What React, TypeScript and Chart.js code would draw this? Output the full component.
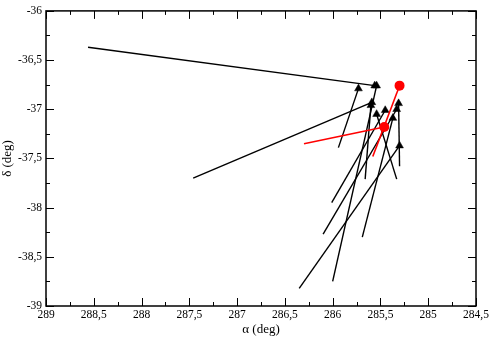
import { useEffect, useRef } from 'react';
import { Chart, registerables } from 'chart.js';

Chart.register(...registerables);

// Black arrows: tail (start) and head (end) positions, in degrees
const blackTailRA = [288.56, 285.94, 285.30, 286.35, 286.10, 285.69, 287.46, 285.66, 285.33, 286.01, 286.00];
const blackTailDec = [-36.37, -37.39, -37.58, -38.82, -38.27, -38.30, -37.70, -37.71, -37.71, -37.95, -38.75];
const blackHeadRA = [285.56, 285.73, 285.31, 285.30, 285.33, 285.37, 285.59, 285.60, 285.54, 285.45, 285.54];
const blackHeadDec = [-36.76, -36.79, -36.94, -37.37, -37.00, -37.09, -36.93, -36.96, -37.05, -37.01, -36.76];

// Red arrows
const redTailRA = [286.30, 285.58];
const redTailDec = [-37.35, -37.48];
const redHeadRA = [285.46, 285.30];
const redHeadDec = [-37.18, -36.76];

// Axis ticks
const xMajorTicks = [289, 288.5, 288, 287.5, 287, 286.5, 286, 285.5, 285, 284.5];
const yMajorTicks = [-39, -38.5, -38, -37.5, -37, -36.5, -36];

const fmt = (v: number) => String(v).replace('.', ',');

const mids = (arr: number[]) => {
  const out: number[] = [];
  for (let i = 0; i < arr.length - 1; i++) out.push((arr[i] + arr[i + 1]) / 2);
  return out;
};

const framePlugin = {
  id: 'frameTicks',
  beforeDatasetsDraw(chart: any) {
    const { ctx, chartArea: a, scales } = chart;
    const xs = scales.x;
    const ys = scales.y;
    ctx.save();
    ctx.strokeStyle = '#000';
    ctx.lineWidth = 1;
    ctx.beginPath();
    const major = 8;
    const minor = 4;
    const drawX = (vals: number[], len: number) => {
      vals.forEach((v) => {
        const px = Math.round(xs.getPixelForValue(v)) + 0.5;
        ctx.moveTo(px, a.bottom);
        ctx.lineTo(px, a.bottom - len);
        ctx.moveTo(px, a.top);
        ctx.lineTo(px, a.top + len);
      });
    };
    const drawY = (vals: number[], len: number) => {
      vals.forEach((v) => {
        const py = Math.round(ys.getPixelForValue(v)) + 0.5;
        ctx.moveTo(a.left, py);
        ctx.lineTo(a.left + len, py);
        ctx.moveTo(a.right, py);
        ctx.lineTo(a.right - len, py);
      });
    };
    drawX(xMajorTicks, major);
    drawX(mids(xMajorTicks), minor);
    drawY(yMajorTicks, major);
    drawY(mids(yMajorTicks), minor);
    ctx.stroke();
    ctx.lineWidth = 1.5;
    ctx.strokeRect(a.left, a.top, a.right - a.left, a.bottom - a.top);
    ctx.restore();
  },
};

export default function App() {
  const ref = useRef<HTMLCanvasElement | null>(null);

  useEffect(() => {
    if (!ref.current) return;
    const datasets: any[] = [];
    redTailRA.forEach((_, i) => {
      datasets.push({
        data: [
          { x: redTailRA[i], y: redTailDec[i] },
          { x: redHeadRA[i], y: redHeadDec[i] },
        ],
        showLine: true,
        borderColor: '#ff0000',
        backgroundColor: '#ff0000',
        borderWidth: 1.6,
        pointRadius: [0, 5],
        pointStyle: 'circle',
        pointBorderWidth: 0,
        order: 0,
      });
    });
    blackTailRA.forEach((_, i) => {
      datasets.push({
        data: [
          { x: blackTailRA[i], y: blackTailDec[i] },
          { x: blackHeadRA[i], y: blackHeadDec[i] },
        ],
        showLine: true,
        borderColor: '#000000',
        backgroundColor: '#000000',
        borderWidth: 1.4,
        pointRadius: [0, 4.5],
        pointStyle: 'triangle',
        pointBorderWidth: 0.5,
        order: 1,
      });
    });

    const tickFont = { family: 'Liberation Serif', size: 11.5 };
    const titleFont = { family: 'Liberation Serif', size: 13 };

    const chart = new Chart(ref.current, {
      type: 'scatter',
      data: { datasets },
      options: {
        animation: false,
        responsive: true,
        maintainAspectRatio: false,
        layout: { padding: { top: 5, right: 15, left: 0, bottom: 0 } },
        plugins: { legend: { display: false }, tooltip: { enabled: false } },
        scales: {
          x: {
            type: 'linear',
            reverse: true,
            min: 284.5,
            max: 289,
            grid: { display: false, drawTicks: false },
            border: { display: false },
            afterBuildTicks: (s: any) => {
              s.ticks = xMajorTicks.map((v) => ({ value: v }));
            },
            afterFit: (s: any) => {
              s.height = 31;
            },
            ticks: {
              color: '#000',
              font: tickFont,
              padding: 2,
              maxRotation: 0,
              autoSkip: false,
              callback: (v: any) => fmt(Number(v)),
            },
            title: {
              display: true,
              text: 'α (deg)',
              color: '#000',
              font: titleFont,
              padding: 0,
            },
          },
          y: {
            type: 'linear',
            min: -39,
            max: -36,
            grid: { display: false, drawTicks: false },
            border: { display: false },
            afterBuildTicks: (s: any) => {
              s.ticks = yMajorTicks.map((v) => ({ value: v }));
            },
            afterFit: (s: any) => {
              s.width = 46;
            },
            ticks: {
              color: '#000',
              font: tickFont,
              padding: 4,
              autoSkip: false,
              callback: (v: any) => fmt(Number(v)),
            },
            title: {
              display: true,
              text: 'δ (deg)',
              color: '#000',
              font: titleFont,
              padding: 0,
            },
          },
        },
      },
      plugins: [framePlugin],
    });
    return () => chart.destroy();
  }, []);

  return (
    <div style={{ position: 'absolute', left: 0, top: 0, width: 491, height: 337, background: '#fff' }}>
      <canvas ref={ref} />
    </div>
  );
}
